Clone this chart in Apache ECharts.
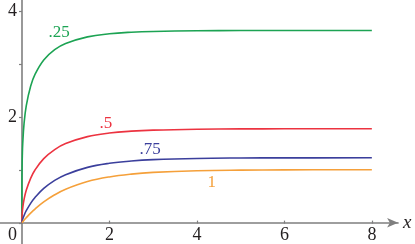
<!DOCTYPE html>
<html>
<head>
<meta charset="utf-8">
<script src="https://cdn.jsdelivr.net/npm/echarts@6/dist/echarts.min.js"></script>
<style>
  html, body { margin: 0; padding: 0; background: #fff; }
  #chart { width: 415px; height: 244px; }
</style>
</head>
<body>
<div id="chart"></div>
<script>
// x positions where the curves were read
const xs = [0, 0.001, 0.005, 0.01, 0.02, 0.05, 0.1, 0.2, 0.3, 0.5, 0.75, 1, 1.5, 2, 2.5, 3, 4, 5, 6, 8];
const green25 = [0, 0.7112, 1.0626, 1.2624, 1.4982, 1.8728, 2.2056, 2.5736, 2.7965, 3.0690, 3.2628, 3.3794, 3.5045, 3.5629, 3.5922, 3.6074, 3.6200, 3.6238, 3.6250, 3.6255];
const red50 = [0, 0.0632, 0.1412, 0.1993, 0.2810, 0.4399, 0.6120, 0.8382, 0.9951, 1.2100, 1.3807, 1.4936, 1.6248, 1.6916, 1.7274, 1.7470, 1.7642, 1.7697, 1.7715, 1.7723];
const blue75 = [0, 0.0075, 0.0250, 0.0420, 0.0703, 0.1380, 0.2273, 0.3667, 0.4772, 0.6469, 0.7985, 0.9068, 1.0445, 1.1212, 1.1648, 1.1899, 1.2131, 1.2211, 1.2239, 1.2252];
const orange100 = [0, 0.0010, 0.0050, 0.0100, 0.0198, 0.0488, 0.0952, 0.1813, 0.2592, 0.3935, 0.5276, 0.6321, 0.7769, 0.8647, 0.9179, 0.9502, 0.9817, 0.9933, 0.9975, 0.9997];

const yLabels = [2, 4];

// curve names and where they sit (data coords)
const curveNames = ['.25', '.5', '.75', '1'];
const nameAt = [[0.85, 3.59], [1.92, 1.87], [2.93, 1.38], [4.34, 0.76]];

const colors = ['#1ca353', '#ec3340', '#3b3f9c', '#f5a03a'];
const axisGray = '#7f7f7f';
const textColor = '#231f20';
const font = "'Liberation Serif', 'DejaVu Serif', serif";
const tickFont = 'serif';

function pairs(ys) {
  return xs.map((x, i) => [x, ys[i]]);
}

function curve(ys, k) {
  return {
    type: 'line',
    xAxisIndex: 0,
    yAxisIndex: 0,
    data: pairs(ys),
    showSymbol: false,
    smooth: 0.4,
    lineStyle: { color: colors[k], width: 1.6 },
    markPoint: {
      symbol: 'circle',
      symbolSize: 0,
      data: [{ coord: nameAt[k] }],
      label: {
        show: true,
        position: 'inside',
        formatter: curveNames[k],
        color: colors[k],
        fontFamily: font,
        fontSize: 17
      }
    }
  };
}

let chart = echarts.init(document.getElementById('chart'));
let option = {
  animation: false,
  backgroundColor: '#fff',
  grid: [
    // full area: axis lines crossing at the origin, curves
    { left: 0, right: 16.9, top: 0, bottom: 0, outerBoundsMode: 'none' },
    // 0..8 x 0..4 box: ticks and tick labels
    { left: 22, right: 43, top: 10.8, bottom: 20.4, outerBoundsMode: 'none' }
  ],
  xAxis: [
    {
      gridIndex: 0,
      type: 'value',
      min: -0.5,
      max: 8.6,
      name: 'x',
      nameLocation: 'end',
      nameGap: 5,
      nameTextStyle: { fontFamily: font, fontStyle: 'italic', fontSize: 19, color: textColor, verticalAlign: 'middle' },
      splitLine: { show: false },
      axisLine: { onZero: true, symbol: ['none', 'arrow'], symbolSize: [7, 11], lineStyle: { color: axisGray, width: 1.6 } },
      axisTick: { show: false },
      axisLabel: { show: false }
    },
    {
      gridIndex: 1,
      type: 'value',
      min: 0,
      max: 8,
      interval: 2,
      splitLine: { show: false },
      axisLine: { show: false },
      axisTick: { show: true, inside: true, length: 3, lineStyle: { color: axisGray, width: 1.2 } },
      axisLabel: {
        margin: 3,
        fontFamily: tickFont,
        fontSize: 18,
        color: textColor,
        formatter: v => v === 0 ? '{z|0}' : String(v),
        rich: { z: { fontFamily: tickFont, fontSize: 18, color: textColor, padding: [0, 19, 0, 0] } }
      }
    }
  ],
  yAxis: [
    {
      gridIndex: 0,
      type: 'value',
      min: -0.4,
      max: 4.2,
      splitLine: { show: false },
      axisLine: { onZero: true, lineStyle: { color: axisGray, width: 1.6 } },
      axisTick: { show: false },
      axisLabel: { show: false }
    },
    {
      gridIndex: 1,
      type: 'value',
      min: 0,
      max: 4,
      interval: 1,
      splitLine: { show: false },
      axisLine: { show: false },
      axisTick: { show: true, length: 3, lineStyle: { color: axisGray, width: 1.2 } },
      axisLabel: {
        margin: 5,
        fontFamily: tickFont,
        fontSize: 18,
        color: textColor,
        formatter: v => yLabels.includes(v) ? String(v) : ''
      }
    }
  ],
  series: [
    curve(green25, 0),
    curve(red50, 1),
    curve(blue75, 2),
    curve(orange100, 3)
  ]
};
chart.setOption(option);
</script>
</body>
</html>
